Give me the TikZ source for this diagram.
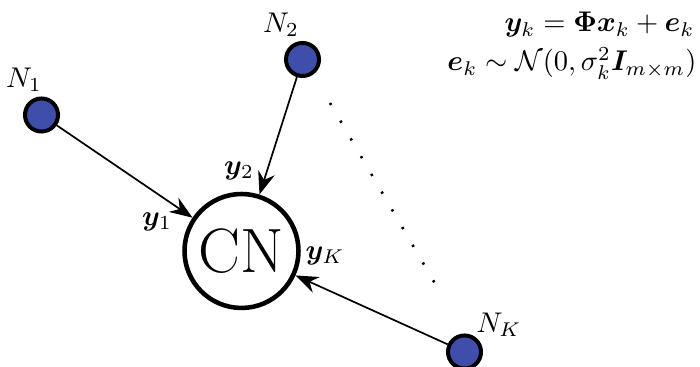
\documentclass[tikz,border=0pt]{standalone}
\usepackage{amsmath}
\usepackage{amssymb}
\usepackage{bm}
\usetikzlibrary{arrows.meta}
\definecolor{nodeblue}{RGB}{63,78,170}
\begin{document}
\begin{tikzpicture}[x=0.351pt, y=0.351pt,
    sensor/.style={circle, draw=black, line width=1.4pt, fill=nodeblue, minimum size=11.6pt, inner sep=0pt},
    fusion/.style={circle, draw=black, line width=1.6pt, minimum size=40pt, inner sep=0pt, font=\fontsize{22}{24}\selectfont},
    link/.style={line width=0.6pt, -{Stealth[length=8pt, width=6pt, inset=2.6pt]}}]
    \useasboundingbox (0,0) rectangle (700,367);
    \node[fusion] (cn) at (241.5,116) {CN};
    \node[sensor] (n1) at (41.5,252) {};
    \node[sensor] (n2) at (302.5,307.5) {};
    \node[sensor] (nk) at (464.5,15) {};
    \node (l1) at (24,287) {$N_1$};
    \node (l2) at (281,342) {$N_2$};
    \node (lk) at (499,42) {$N_K$};
    \draw[link] (n1) -- (cn);
    \draw[link] (n2) -- (cn);
    \draw[link] (nk) -- (cn);
    \node (y1) at (157,145) {$\bm{y}_1$};
    \node (y2) at (239,196) {$\bm{y}_2$};
    \node (yk) at (325,111) {$\bm{y}_K$};
    \coordinate (dtop) at (330,264);
    \coordinate (dbot) at (437,80);
    \draw[line width=0.9pt, dash pattern=on 0.8pt off 6.4pt] (dtop) -- (dbot);
    % model
    \node[anchor=base east, inner sep=0pt] (eq1) at (695,335) {$\bm{y}_k = \bm{\Phi}\bm{x}_k + \bm{e}_k$};
    \node[anchor=base east, inner sep=0pt] (eq2) at (697,296) {$\bm{e}_k \sim \mathcal{N}(0,\sigma_k^2\bm{I}_{m\times m})$};
\end{tikzpicture}
\end{document}
